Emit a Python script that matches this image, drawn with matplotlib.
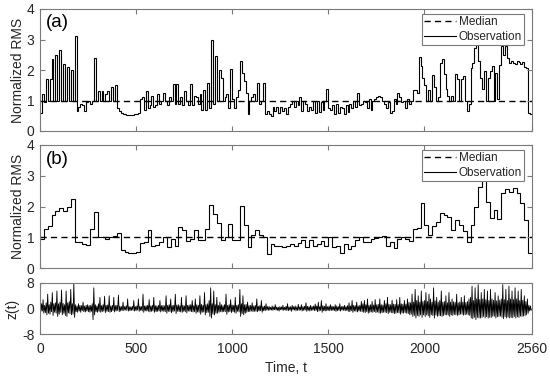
import numpy as np
import matplotlib
matplotlib.use("Agg")
import matplotlib.pyplot as plt

plt.rcParams['font.family'] = ['Liberation Sans', 'DejaVu Sans']
plt.rcParams['axes.unicode_minus'] = False

T_MAX = 2560
median_value = 1.0
xticks = [0, 500, 1000, 1500, 2000, 2560]

# Panel (a): normalized RMS, short window (10 samples)
rms_a = [
    0.6, 1.2, 0.95,
    1.7, 1.0, 1.7,
    2.35, 1.0, 2.5, 1.0, 2.65, 1.0, 2.2, 1.0, 2.1, 1.0, 2.0, 1.0,
    3.1,
    0.65, 0.8, 0.9, 0.85, 0.65, 0.95,
    1.0, 0.9, 1.0,
    2.4,
    1.0,
    1.3, 1.0, 1.3, 1.0, 1.2, 1.3, 1.0, 1.45, 1.0, 1.5,
    0.75, 0.65, 0.6, 0.57, 0.55, 0.54, 0.53, 0.53, 0.54, 0.55, 0.56, 0.6,
    1.05, 1.1, 0.7, 1.3, 0.75, 0.85, 1.15, 0.8, 0.85, 1.2, 0.9, 1.0, 1.25, 1.0, 0.85, 1.1, 1.0, 1.55, 0.9, 1.55, 0.9,
    1.1, 0.85, 1.3, 1.0, 0.85, 1.55, 0.85, 1.15, 1.1, 0.9, 1.2, 0.7, 1.34, 0.68,
    1.59, 0.75, 2.97,
    0.9, 2.45, 1.0, 2.0, 1.75, 1.0,
    1.1, 1.2, 0.77, 2.02,
    1.05, 0.77, 1.1, 1.34, 2.29,
    1.91, 1.64, 1.26, 0.55, 1.0, 1.1, 1.2, 1.0, 1.59, 0.9, 1.0, 1.59, 0.55, 0.65, 0.57, 0.5,
    0.8, 0.65, 0.8, 0.6, 0.8, 0.65, 0.75, 0.55,
    0.8, 0.9, 1.0, 0.8, 1.0, 0.85, 1.1, 0.65, 1.0, 0.9,
    0.65, 0.78, 0.68, 1.0, 0.6, 1.0, 0.62, 0.95, 0.7,
    1.0, 1.37, 0.77,
    0.68, 0.85, 0.55, 0.9, 0.6, 0.8, 0.75, 0.55, 0.85, 0.62,
    0.9, 0.75, 1.0, 0.78, 1.26, 0.85,
    0.9, 1.0, 0.95, 0.77, 1.05, 0.68, 1.0, 1.05, 1.1, 1.15, 1.12, 1.0, 0.9, 0.77, 0.95,
    0.6, 0.65, 1.05, 0.9, 1.26, 1.1, 0.95, 1.0, 0.77, 1.05, 0.9, 1.0, 1.34,
    1.36, 1.25, 2.42, 2.13, 1.73,
    1.5, 1.0, 1.34, 1.0,
    1.83,
    1.45, 1.0, 1.1,
    2.24, 2.35, 1.86,
    1.37, 1.15, 1.0, 1.15, 1.0,
    1.88,
    1.7, 1.0, 1.7, 1.8, 1.0, 0.66, 0.9,
    2.05, 2.24, 2.73, 2.9, 2.3,
    1.75, 1.37, 1.97, 1.0, 1.75,
    1.97, 2.13, 1.0, 1.9, 1.05,
    2.18, 2.78, 2.5, 2.78, 2.4, 2.24, 2.3, 2.24, 2.2,
    2.3, 2.25, 2.2, 2.25, 2.1, 2.05, 0.6, 0.55,
]

# Panel (b): normalized RMS, longer window (20 samples)
rms_b = [
    0.93, 1.26, 1.35, 1.73, 1.84, 1.95, 1.86, 1.98, 2.25, 0.83,
    0.85, 0.78, 0.74, 1.26, 1.82, 1.02, 1.0, 0.93, 1.0, 1.04,
    1.13, 0.59, 0.51, 0.50, 0.50, 0.52, 0.80, 0.83, 1.24, 0.72,
    0.76, 0.83, 1.0, 0.67, 0.93, 0.72, 1.33, 1.22, 0.89, 0.93,
    1.22, 0.91,
    0.91, 1.26, 2.05, 1.77, 1.45, 0.90, 1.0, 1.43, 0.91, 0.90,
    2.02, 1.40, 0.67, 1.08, 1.22, 1.08, 1.0, 0.46,
    0.78, 0.72, 0.72, 0.68, 0.72, 0.78, 0.70, 0.80, 0.91, 0.67,
    0.91, 0.72, 0.78, 0.89, 0.72, 1.0, 0.67, 0.72, 0.48, 0.78,
    0.61, 0.72, 0.91, 1.0,
    0.86, 0.84, 0.93, 0.97, 1.02, 1.04, 0.72, 0.86, 0.64, 0.93,
    1.02, 0.93, 0.89, 1.26,
    1.30, 2.13, 1.40, 1.08, 1.37, 1.51, 1.80, 1.73, 1.67, 1.22,
    1.57, 1.40, 1.2, 0.86, 1.40, 2.0, 2.65, 3.0, 2.16, 1.62,
    1.89, 1.60, 2.43, 2.57, 2.46, 2.60, 2.45, 2.10, 1.57, 0.50,
]

# Bottom panel: signal z(t), sampled every 4 time steps (20 values per row = 80 steps)
z_t = [
    0.5, -1.2, 1.5, -0.8, 2.8, -1.5, 1.0, -1.3, 1.8, -2.0, 4.5, -1.5, 1.2, -1.8, 2.0, -1.0, 5.0, -2.2, 1.5, -1.2,
    1.8, -1.5, 5.5, -2.5, 1.5, -1.8, 2.0, -1.2, 5.8, -2.0, 1.6, -1.5, 1.2, -2.2, 5.5, -2.5, 1.8, -1.4, 2.2, -1.6,
    6.0, -2.0, 1.5, -1.8, 8.0, -2.8, 1.2, -1.0, 0.8, -1.2, 1.5, -0.8, 1.0, -1.2, 0.9, -0.7, 2.0, -1.0, 0.8, -1.1,
    1.0, -0.8, 1.2, -1.0, 0.9, -1.2, 1.0, -0.9, 1.5, -3.5, 6.5, -2.0, 1.2, -1.0, 0.8, -1.2, 1.5, -0.9, 3.5, -1.2,
    0.9, -1.0, 1.2, -0.8, 3.8, -1.3, 1.0, -0.9, 1.1, -1.0, 4.0, -1.2, 0.8, -1.0, 1.0, -0.7, 3.5, -1.1, 0.9, -0.8,
    1.0, -0.6, 4.2, -1.0, 0.7, -0.8, 0.6, -0.6, 2.0, -0.7, 0.6, -0.5, 0.8, -0.6, 3.0, -0.8, 0.6, -0.7, 0.5, -0.6,
    0.7, -0.6, 2.5, -0.8, 0.6, -0.7, 0.8, -0.5, 3.0, -0.9, 0.7, -0.6, 0.6, -0.8, 4.5, -1.2, 0.8, -0.7, 0.9, -0.8,
    1.0, -0.9, 2.8, -1.1, 0.8, -0.9, 1.0, -0.8, 3.5, -1.2, 0.9, -1.0, 0.8, -0.9, 1.0, -0.8, 2.5, -1.1, 0.9, -0.8,
    1.0, -0.9, 0.8, -1.0, 4.0, -1.5, 1.0, -0.9, 1.2, -1.0, 3.0, -1.3, 0.9, -1.0, 1.0, -0.8, 4.5, -1.6, 1.1, -0.9,
    1.2, -1.0, 0.9, -1.1, 3.5, -1.2, 1.0, -0.9, 0.8, -1.0, 4.0, -1.4, 1.0, -0.8, 1.1, -0.9, 1.2, -1.0, 2.5, -1.1,
    0.9, -1.0, 3.0, -1.5, 1.2, -1.1, 1.0, -1.2, 4.0, -1.8, 1.3, -1.2, 1.0, -1.1, 5.0, -2.0, 1.2, -1.3, 1.5, -1.2,
    2.5, -2.5, 6.5, -3.0, 1.5, -1.8, 5.5, -2.0, 1.2, -1.5, 3.5, -1.5, 1.0, -1.2, 2.0, -1.0, 1.2, -1.1, 0.9, -1.0,
    1.2, -1.0, 4.5, -1.8, 1.0, -1.1, 1.2, -1.0, 2.8, -1.3, 1.1, -1.0, 1.0, -1.2, 3.5, -1.5, 1.0, -0.9, 1.2, -1.1,
    6.0, -2.5, 1.5, -1.6, 4.0, -2.0, 1.2, -1.5, 1.3, -1.2, 2.0, -1.0, 0.9, -1.0, 1.0, -0.8, 1.8, -1.0, 0.8, -0.9,
    1.0, -0.9, 3.0, -1.0, 0.7, -0.8, 0.9, -0.7, 2.5, -1.2, 0.6, -0.7, 0.8, -0.7, 1.5, -0.5, 0.6, -0.6, 0.7, -0.5,
    0.4, -0.5, 0.8, -0.6, 0.5, -0.4, 1.2, -0.5, 0.5, -0.6, 0.4, -0.8, 0.6, -0.4, 0.5, -0.5, 1.0, -0.6, 0.4, -0.5,
    0.7, -0.6, 1.5, -0.7, 0.5, -0.5, 0.6, -0.9, 1.0, -0.5, 0.6, -0.5, 0.8, -0.7, 0.5, -0.6, 1.3, -0.6, 0.5, -0.5,
    1.2, -0.8, 0.6, -0.6, 0.7, -0.5, 1.8, -0.9, 0.7, -0.6, 0.6, -0.8, 1.0, -0.6, 0.6, -0.5, 0.8, -0.7, 1.4, -0.6,
    0.8, -1.0, 2.0, -0.8, 0.6, -0.6, 2.5, -1.2, 0.9, -0.7, 0.7, -0.8, 1.5, -0.7, 0.6, -0.6, 0.8, -0.7, 1.2, -0.6,
    0.7, -0.6, 0.6, -0.7, 1.2, -0.9, 0.8, -0.7, 0.6, -0.6, 1.5, -0.8, 0.6, -0.5, 0.7, -0.6, 1.0, -0.7, 0.6, -0.6,
    0.9, -0.9, 1.8, -1.0, 0.8, -0.7, 2.5, -1.2, 1.0, -0.8, 0.9, -0.9, 2.0, -1.1, 0.8, -0.8, 1.0, -0.9, 2.2, -1.0,
    1.5, -1.2, 2.5, -1.3, 1.2, -1.0, 3.0, -1.5, 1.0, -1.2, 1.2, -1.1, 2.2, -1.2, 1.1, -1.0, 2.8, -1.3, 1.2, -1.1,
    1.3, -1.4, 3.0, -1.5, 1.2, -1.3, 1.1, -1.2, 2.5, -1.2, 1.5, -1.3, 3.5, -1.6, 1.3, -1.2, 1.2, -1.3, 2.6, -1.4,
    1.4, -1.6, 1.3, -1.5, 2.8, -1.3, 1.2, -1.4, 3.5, -1.8, 1.5, -1.4, 1.3, -1.5, 2.5, -1.3, 1.4, -1.5, 3.0, -1.6,
    2.0, -2.0, 1.8, -1.8, 4.5, -2.5, 2.0, -2.2, 6.0, -3.0, 2.5, -2.2, 4.0, -2.5, 2.0, -2.0, 5.5, -2.8, 2.2, -2.0,
    2.5, -2.5, 5.0, -2.0, 2.2, -2.3, 4.5, -2.8, 3.0, -2.0, 2.0, -2.2, 6.5, -3.0, 2.4, -2.1, 3.5, -2.5, 2.0, -2.2,
    2.5, -2.3, 5.5, -2.5, 2.0, -2.2, 2.2, -2.0, 4.0, -2.0, 1.8, -2.1, 5.0, -2.5, 2.0, -2.0, 3.0, -2.2, 2.1, -1.9,
    2.0, -2.0, 4.5, -2.2, 1.8, -2.0, 2.0, -1.8, 3.5, -1.8, 2.0, -2.1, 4.0, -2.0, 1.9, -1.8, 2.2, -2.0, 3.0, -2.2,
    3.5, -3.0, 7.0, -3.2, 2.5, -2.8, 6.5, -3.5, 3.0, -2.8, 7.5, -3.0, 2.8, -3.0, 5.0, -2.8, 3.0, -2.5, 6.0, -3.0,
    2.8, -2.6, 5.5, -3.0, 2.5, -2.8, 6.0, -2.8, 3.0, -2.5, 2.6, -2.4, 5.0, -3.0, 2.4, -2.6, 4.0, -2.5, 2.6, -2.4,
    3.0, -2.8, 7.5, -3.2, 2.8, -2.6, 6.0, -3.0, 2.5, -2.7, 7.0, -3.0, 3.0, -2.8, 5.5, -2.9, 2.8, -2.5, 6.5, -3.0,
    3.0, -2.6, 5.5, -2.8, 2.5, -2.4, 6.0, -2.5, 2.6, -2.4, 4.0, -2.2, 2.2, -2.0, 3.0, -1.5, 1.0, -0.8, 0.8, -0.5,
]

SPINE = '#7a7a7a'
TXT = '#262626'
FS = 10

fig = plt.figure(figsize=(5.5, 3.79), dpi=100)
L, W = 40 / 550, 492 / 550
ax1 = fig.add_axes([L, 1 - 131 / 379, W, 122 / 379])
ax2 = fig.add_axes([L, 1 - 268 / 379, W, 123 / 379])
ax3 = fig.add_axes([L, 1 - 334 / 379, W, 51 / 379])


def style(ax):
    for s in ax.spines.values():
        s.set_color(SPINE)
        s.set_linewidth(0.8)
    ax.tick_params(direction='in', length=3.5, width=0.8, color=SPINE,
                   labelcolor=TXT, labelsize=FS, top=True, right=True, pad=4)
    ax.set_xlim(0, T_MAX)
    ax.set_xticks(xticks)


for ax, vals, tag in [(ax1, rms_a, '(a)'), (ax2, rms_b, '(b)')]:
    style(ax)
    n = len(vals)
    edges = np.linspace(0, T_MAX, n + 1)
    ax.plot([0, T_MAX], [median_value, median_value], color='black', lw=1.0,
            dashes=[4.5, 3], label='Median')
    ax.stairs(vals, edges, baseline=None, color='black', lw=0.8, label='Observation')
    ax.set_ylim(0, 4)
    ax.set_yticks([0, 1, 2, 3, 4])
    ax.set_xticklabels([])
    ax.set_ylabel('Normalized RMS', fontsize=FS, color=TXT)
    ax.yaxis.set_label_coords(-0.031, 0.5)
    ax.text(0.012, 0.955, tag, transform=ax.transAxes, fontsize=13.5,
            ha='left', va='top', color='black')
    h, l = ax.get_legend_handles_labels()
    leg = ax.legend(h, l, loc='upper right', bbox_to_anchor=(0.984, 0.962),
                    borderaxespad=0, fontsize=8.5, frameon=True, fancybox=False,
                    edgecolor=SPINE, framealpha=1, handlelength=2.7,
                    handletextpad=0.2, labelspacing=0.25, borderpad=0.2)
    leg.get_frame().set_linewidth(0.8)
    for t in leg.get_texts():
        t.set_color(TXT)

style(ax3)
tz = np.arange(len(z_t)) * (T_MAX / len(z_t))
ax3.plot(tz, z_t, color='black', lw=0.6)
ax3.set_ylim(-8, 8)
ax3.set_yticks([-8, 0, 8])
ax3.set_xticklabels([str(v) for v in xticks])
ax3.tick_params(axis='x', pad=6)
ax3.set_ylabel('z(t)', fontsize=FS, color=TXT)
ax3.yaxis.set_label_coords(-0.041, 0.5)
ax3.set_xlabel('Time, t', fontsize=FS, color=TXT, labelpad=3)

fig.savefig('out.png', dpi=100)
